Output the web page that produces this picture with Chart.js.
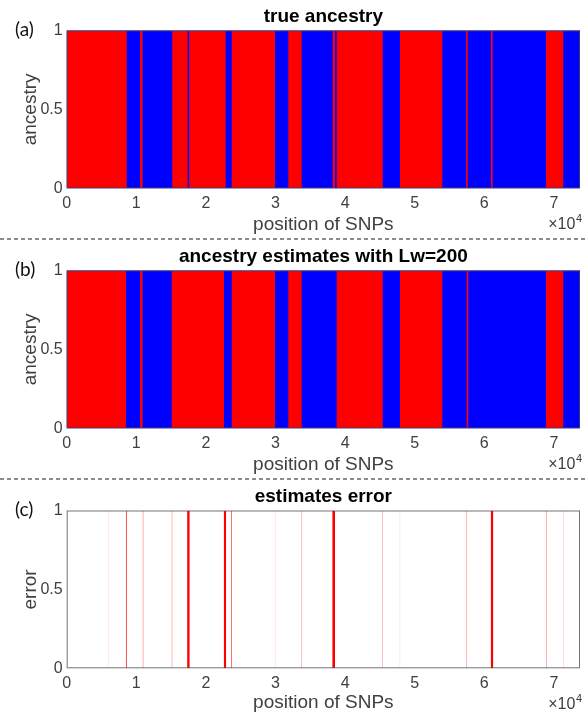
<!DOCTYPE html>
<html>
<head>
<meta charset="utf-8">
<title>ancestry estimates</title>
<script src="https://cdn.jsdelivr.net/npm/chart.js@4.4.0/dist/chart.umd.min.js"></script>
<style>
  html, body { margin: 0; padding: 0; background: #fff; }
  #wrap { position: relative; width: 586px; height: 718px; overflow: hidden; }
  #wrap canvas { position: absolute; left: 0; }
  .tag { position: absolute; left: 15px; font: 19px Lato, "Liberation Sans", sans-serif; color: #111; }
  .sep { position: absolute; left: 0; width: 586px; height: 2px;
         background: repeating-linear-gradient(to right, #8c8c8c 0 4px, transparent 4px 7px); }
</style>
</head>
<body>
<div id="wrap">
  <canvas id="chartA" width="586" height="240" style="top:0"></canvas>
  <canvas id="chartB" width="586" height="240" style="top:240px"></canvas>
  <canvas id="chartC" width="586" height="238" style="top:480px"></canvas>
  <div class="tag" style="top:17px">(a)</div>
  <div class="tag" style="top:257px">(b)</div>
  <div class="tag" style="top:497px">(c)</div>
  <div class="sep" style="top:238px"></div>
  <div class="sep" style="top:478px"></div>
</div>
<script>
// x range and ticks (positions of SNPs, shown as x10^4)
const X_MAX = 73750;
const xTicks = [0, 10000, 20000, 30000, 40000, 50000, 60000, 70000];
const xTickLabels = ['0', '1', '2', '3', '4', '5', '6', '7'];
const yTicks = [0, 0.5, 1];
const yTickLabels = ['0', '0.5', '1'];

// (a) true ancestry: start of each run and its ancestry (1 = red, 0 = blue)
const trueStarts = [0, 8620, 10530, 10900, 15170, 17380, 17600, 22840, 23710, 29930, 31840, 33760,
                    38210, 38550, 38790, 45400, 47890, 53970, 57370, 57610, 60960, 61200, 68860, 71350];
const trueAnc    = [1, 0, 1, 0, 1, 0, 1, 0, 1, 0, 1, 0,
                    1, 0, 1, 0, 1, 0, 1, 0, 1, 0, 1, 0];

// (b) estimated ancestry with Lw=200
const estStarts = [0, 8520, 10530, 10900, 15090, 22600, 23710, 29930, 31840, 33760,
                   38790, 45400, 47890, 53970, 57470, 57700, 68860, 71350];
const estAnc    = [1, 0, 1, 0, 1, 0, 1, 0, 1, 0,
                   1, 0, 1, 0, 1, 0, 1, 0];

// (c) estimate error spikes: start, end, error level
const errStarts = [5900, 8500, 10900, 15060, 17300, 22560, 23600, 29880, 33680, 38150, 45280, 47800, 57360, 60920, 68860, 71300];
const errEnds   = [6050, 8660, 11050, 15210, 17680, 22920, 23750, 30030, 33830, 38560, 45430, 47950, 57510, 61300, 69010, 71450];
const errLevel  = [0.12, 0.7, 0.55, 0.5, 1, 1, 0.55, 0.15, 0.3, 1, 0.3, 0.15, 0.3, 1, 0.3, 0.15];

const RED = '#ff0000';
const BLUE = '#0000ff';
const TXT = '#404040';
const FAMILY = "'Liberation Sans', Arial, sans-serif";

Chart.defaults.font.family = FAMILY;

// turn run starts into stepped points, 1 where the run has the wanted ancestry
function stepPoints(starts, anc, want) {
  const pts = starts.map((s, i) => ({ x: s, y: anc[i] === want ? 1 : 0 }));
  pts.push({ x: X_MAX, y: anc[anc.length - 1] === want ? 1 : 0 });
  return pts;
}

function runDataset(starts, anc, want, color) {
  return {
    data: stepPoints(starts, anc, want),
    stepped: true,
    fill: 'origin',
    backgroundColor: color,
    borderWidth: 0,
    pointRadius: 0
  };
}

// plot area background (blue under the runs so no seams show)
const areaBg = {
  id: 'areaBg',
  beforeDatasetsDraw(chart, args, opts) {
    if (!opts.color) return;
    const a = chart.chartArea;
    chart.ctx.save();
    chart.ctx.fillStyle = opts.color;
    chart.ctx.fillRect(a.left, a.top, a.right - a.left, a.bottom - a.top);
    chart.ctx.restore();
  }
};

// axes box and the x10^4 exponent
const boxAndExp = {
  id: 'boxAndExp',
  afterDraw(chart) {
    const ctx = chart.ctx;
    const a = chart.chartArea;
    ctx.save();
    ctx.strokeStyle = 'rgba(70,70,70,0.75)';
    ctx.lineWidth = 1;
    ctx.strokeRect(a.left + 0.5, a.top + 0.5, a.right - a.left - 1, a.bottom - a.top - 1);

    ctx.fillStyle = TXT;
    ctx.textBaseline = 'alphabetic';
    ctx.textAlign = 'right';
    ctx.font = '11px ' + FAMILY;
    const sup = '4';
    const wSup = ctx.measureText(sup).width;
    const xr = a.right + 2;
    ctx.fillText(sup, xr, a.bottom + 34);
    ctx.font = '16px ' + FAMILY;
    ctx.fillText('\u00d710', xr - wSup - 0.5, a.bottom + 41);
    ctx.restore();
  }
};

function makeChart(id, title, yTitle, datasets, bg) {
  return new Chart(document.getElementById(id), {
    type: 'line',
    data: { datasets: datasets },
    plugins: [areaBg, boxAndExp],
    options: {
      responsive: false,
      animation: false,
      events: [],
      layout: { padding: { left: 0, right: 6, top: 0, bottom: 0 } },
      plugins: {
        legend: { display: false },
        tooltip: { enabled: false },
        areaBg: { color: bg },
        title: {
          display: true,
          text: title,
          fullSize: false,
          color: '#000',
          font: { size: 19, weight: 'bold' },
          padding: { top: 5, bottom: 2.7 }
        }
      },
      scales: {
        x: {
          type: 'linear',
          min: 0,
          max: X_MAX,
          afterBuildTicks: s => { s.ticks = xTicks.map(v => ({ value: v })); },
          afterFit: s => { s.height = chartHeight(id) - 188.3; },
          ticks: {
            autoSkip: false,
            maxRotation: 0,
            padding: 6,
            color: TXT,
            font: { size: 16 },
            callback: (v, i) => xTickLabels[i]
          },
          grid: { display: false, drawTicks: false },
          border: { display: false },
          title: {
            display: true,
            text: 'position of SNPs',
            color: TXT,
            font: { size: 19 },
            padding: { top: 0, bottom: 4 }
          }
        },
        y: {
          type: 'linear',
          min: 0,
          max: 1,
          afterBuildTicks: s => { s.ticks = yTicks.map(v => ({ value: v })); },
          afterFit: s => { s.width = 66.7; },
          ticks: {
            padding: 4,
            color: TXT,
            font: { size: 16 },
            callback: (v, i) => yTickLabels[i]
          },
          grid: { display: false, drawTicks: false },
          border: { display: false },
          title: {
            display: true,
            text: yTitle,
            color: TXT,
            font: { size: 19 },
            padding: { top: 19, bottom: 0 }
          }
        }
      }
    }
  });
}

function chartHeight(id) {
  return document.getElementById(id).height;
}

makeChart('chartA', 'true ancestry', 'ancestry', [
  runDataset(trueStarts, trueAnc, 1, RED),
  runDataset(trueStarts, trueAnc, 0, BLUE)
], BLUE);

makeChart('chartB', 'ancestry estimates with Lw=200', 'ancestry', [
  runDataset(estStarts, estAnc, 1, RED),
  runDataset(estStarts, estAnc, 0, BLUE)
], BLUE);

makeChart('chartC', 'estimates error', 'error', errStarts.map((s, i) => ({
  data: [{ x: s, y: 1 }, { x: errEnds[i], y: 1 }],
  fill: 'origin',
  backgroundColor: 'rgba(255,0,0,' + errLevel[i] + ')',
  borderWidth: 0,
  pointRadius: 0
})), null);
</script>
</body>
</html>
